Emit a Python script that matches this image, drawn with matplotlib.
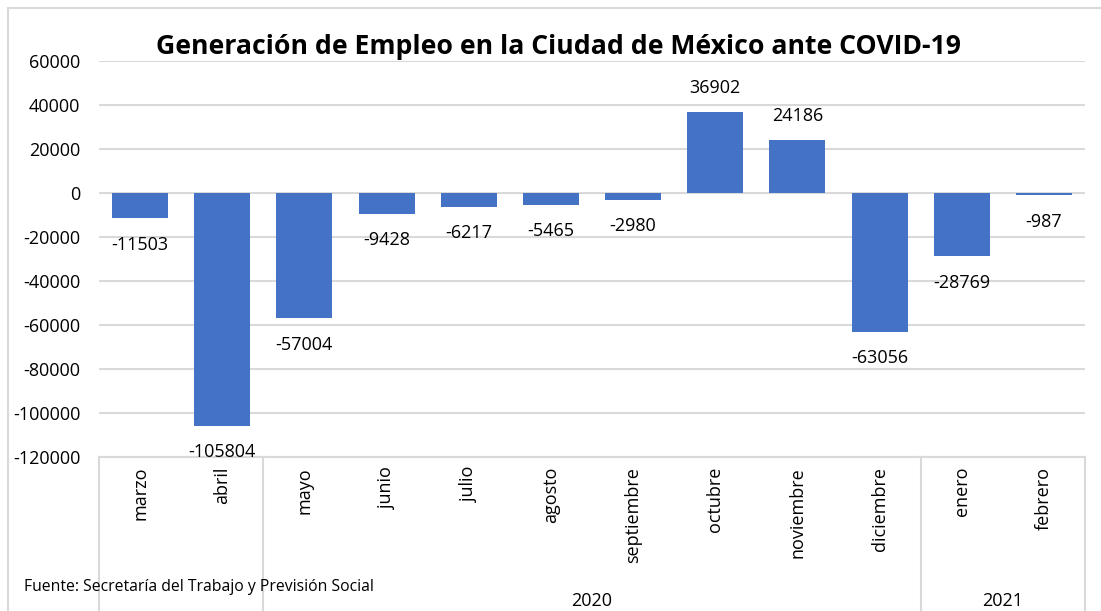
import matplotlib
matplotlib.use("Agg")
import matplotlib.pyplot as plt
import matplotlib.transforms as mtransforms
from matplotlib.lines import Line2D

months = ["marzo", "abril", "mayo", "junio", "julio", "agosto", "septiembre",
          "octubre", "noviembre", "diciembre", "enero", "febrero"]
values = [-11503, -105804, -57004, -9428, -6217, -5465, -2980,
          36902, 24186, -63056, -28769, -987]
groups = [("", 0, 1), ("2020", 2, 9), ("2021", 10, 11)]
yticks = list(range(-120000, 60001, 20000))
title = "Generación de Empleo en la Ciudad de México ante COVID-19"
source = "Fuente: Secretaría del Trabajo y Previsión Social"

FONT = "Open Sans"
BAR = "#4472C4"
GRID = "#D9D9D9"
W, H = 1101, 611

fig = plt.figure(figsize=(W / 100, H / 100), dpi=100)
ax = fig.add_axes([99 / W, 1 - 457 / H, (1085 - 99) / W, (457 - 61) / H])

x = list(range(len(months)))
ax.bar(x, values, width=0.68, color=BAR, zorder=3)
ax.set_xlim(-0.5, len(months) - 0.5)
ax.set_ylim(yticks[0], yticks[-1])
ax.set_yticks(yticks)
ax.set_yticklabels([str(v) for v in yticks], fontfamily=FONT, fontsize=13)
ax.tick_params(axis="y", length=0, pad=13.5)
ax.set_xticks([])
ax.grid(axis="y", color=GRID, linewidth=1.5, zorder=0)
for s in ax.spines.values():
    s.set_visible(False)

for xi, v in zip(x, values):
    off = 17 if v >= 0 else -19
    ax.annotate(str(v), (xi, v), xytext=(0, off), textcoords="offset points",
                ha="center", va="center", fontfamily=FONT, fontsize=13)

# category labels, 10 px below the axis
trans = ax.get_xaxis_transform()
lab_trans = trans + mtransforms.ScaledTranslation(0, -10 / 100, fig.dpi_scale_trans)
for xi, m in zip(x, months):
    ax.text(xi, 0, m, transform=lab_trans, rotation=90, ha="center", va="top",
            fontfamily=FONT, fontsize=13)

# separator lines of the multi-level category axis
ybot = -(H - 457) / (457 - 61)
bounds = [-0.5] + [g[2] + 0.5 for g in groups]
for b in bounds:
    ax.plot([b, b], [0, ybot], transform=trans, color=GRID, linewidth=1.5,
            clip_on=False, zorder=1)
ax.plot([-0.5, len(months) - 0.5], [0, 0], transform=trans, color=GRID,
        linewidth=1.5, clip_on=False)

grp_trans = mtransforms.blended_transform_factory(ax.transData, fig.transFigure)
for name, a, b in groups:
    if name:
        ax.text((a + b) / 2, 1 - 601 / H, name, transform=grp_trans,
                ha="center", va="center", fontfamily=FONT, fontsize=13)

fig.text(558.5 / W, 1 - 47 / H, title, ha="center", va="center", fontfamily=FONT,
         fontweight="bold", fontsize=19.2)
fig.text(24 / W, 1 - 587 / H, source, ha="left", va="center", fontfamily=FONT,
         fontsize=11.35)

# chart border
fig.add_artist(Line2D([8 / W, 8 / W], [0, 1 - 8 / H], color=GRID, linewidth=1.5))
fig.add_artist(Line2D([8 / W, 1], [1 - 8 / H, 1 - 8 / H], color=GRID, linewidth=1.5))

fig.savefig("out.png", dpi=100, facecolor="white")
